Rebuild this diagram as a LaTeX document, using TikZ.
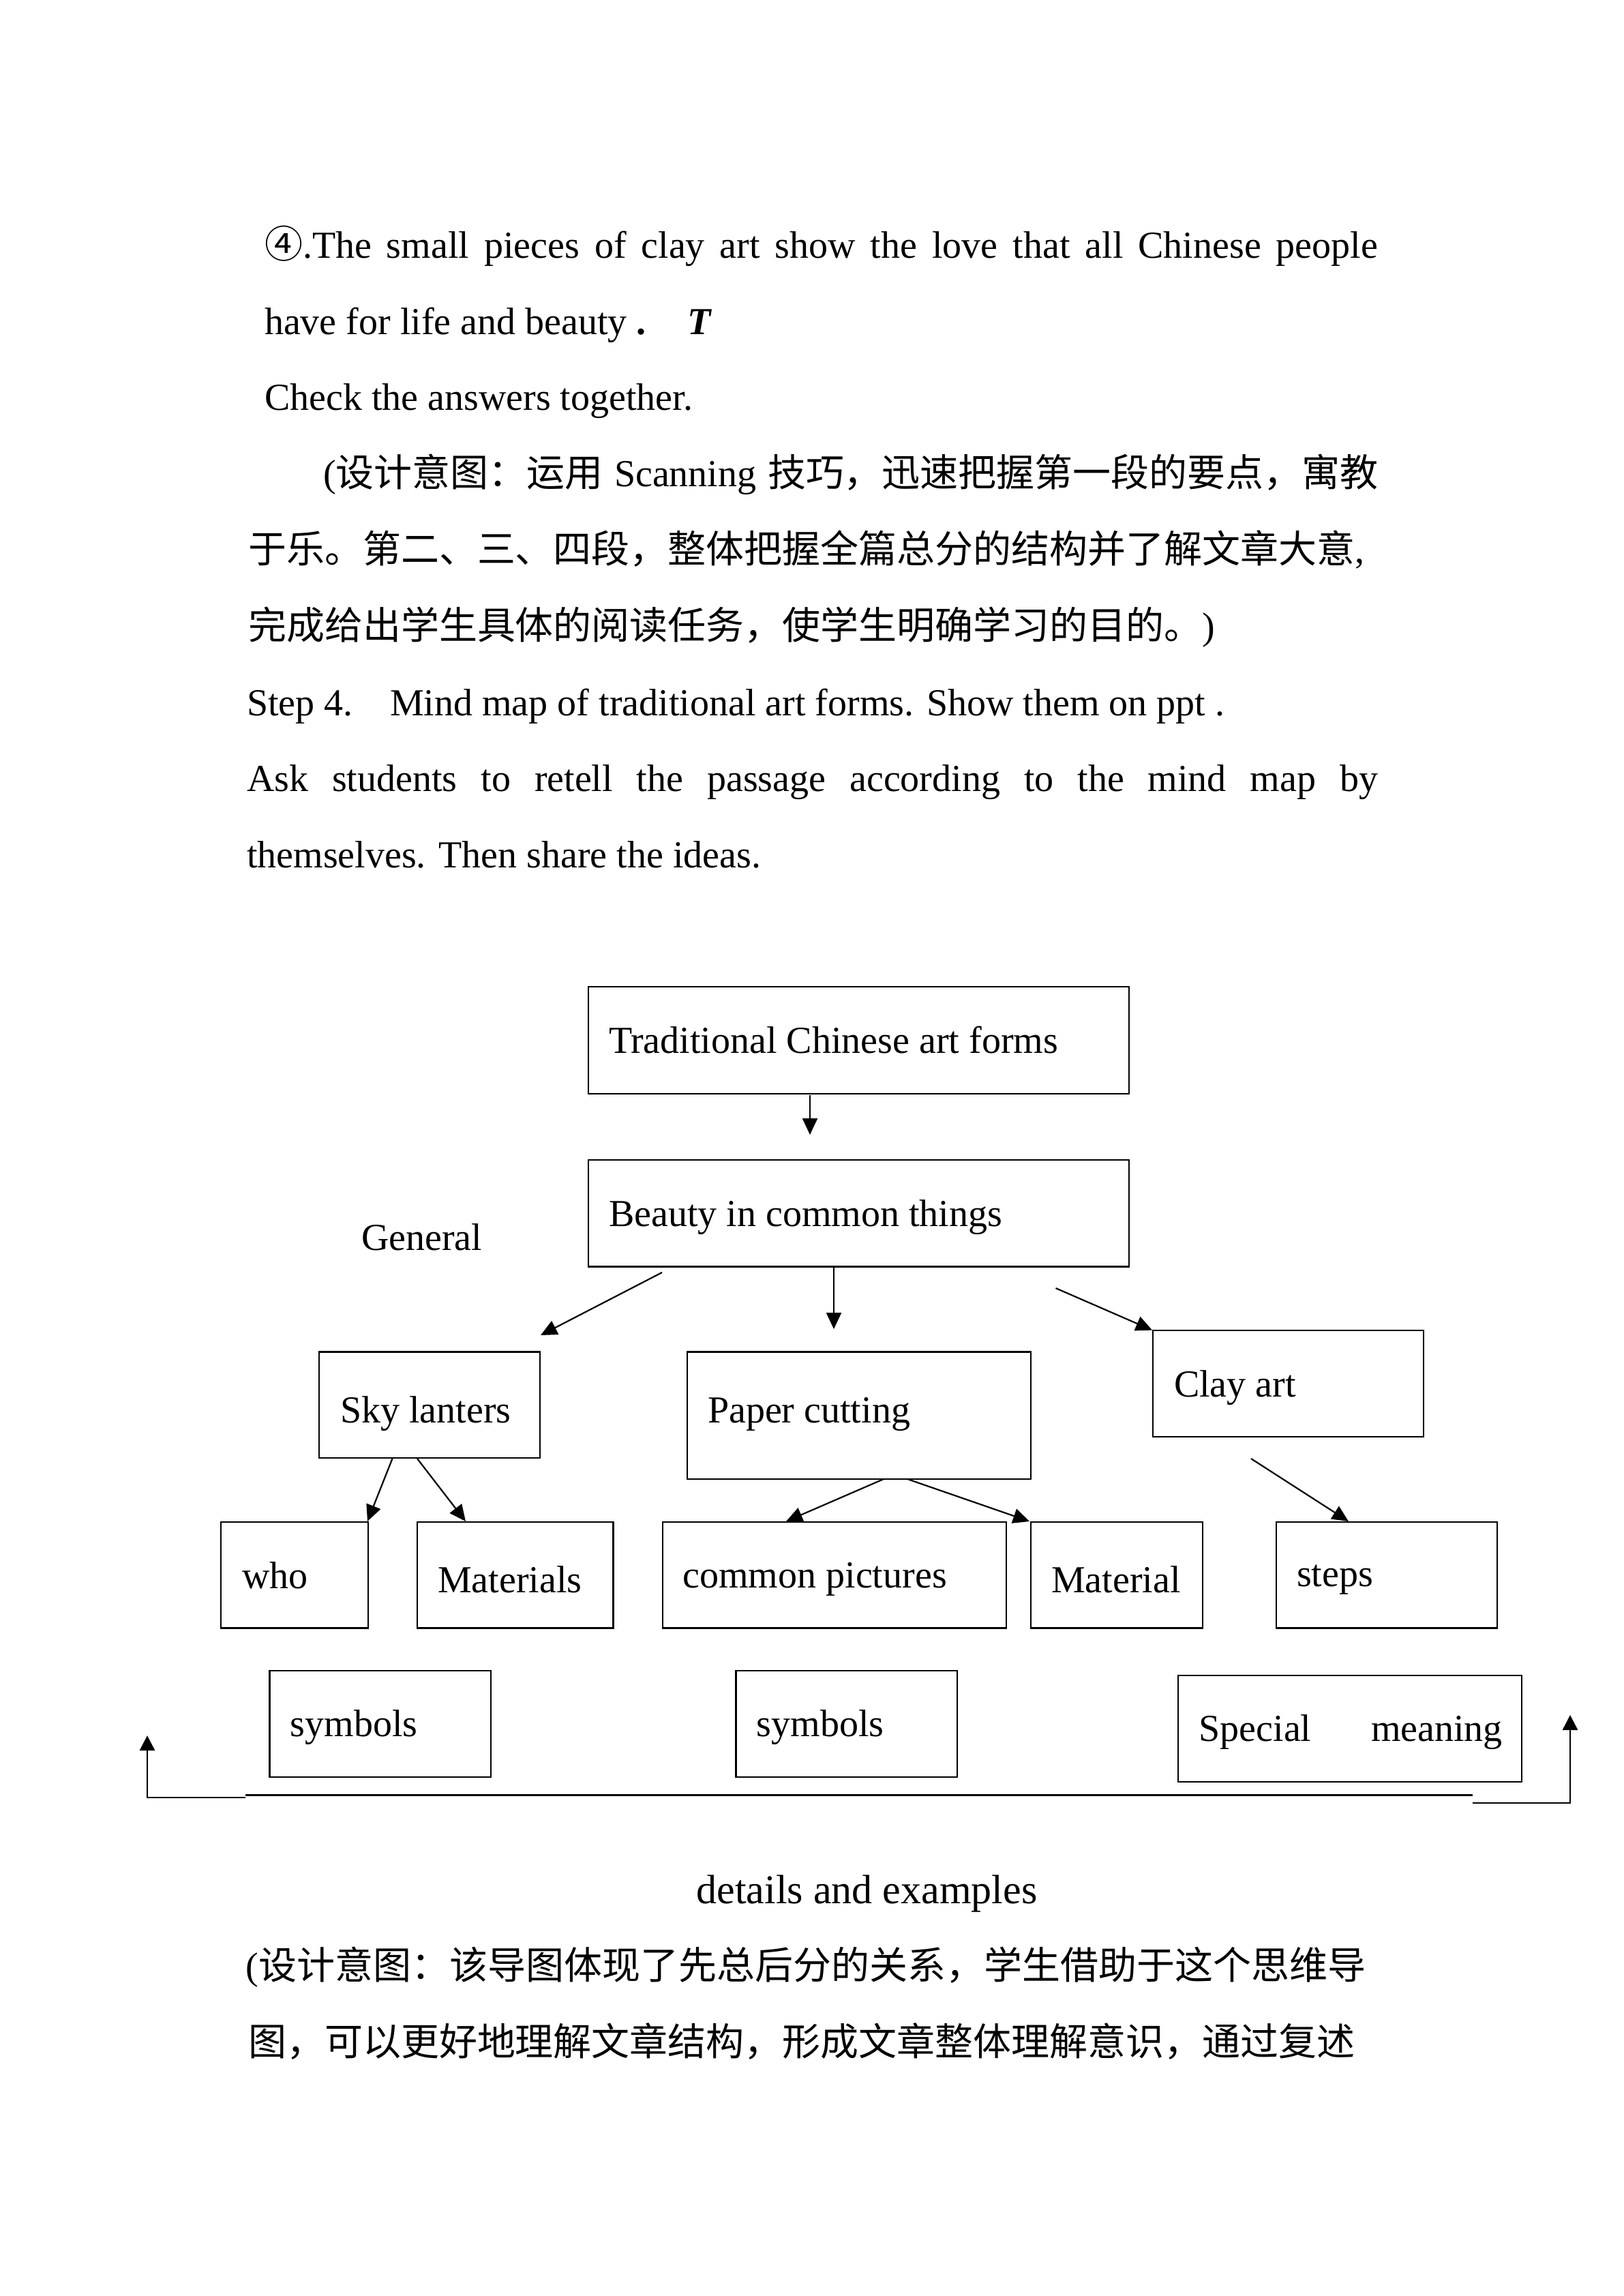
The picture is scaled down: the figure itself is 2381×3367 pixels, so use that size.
\documentclass[tikz,border=0pt]{standalone}
\usepackage{fontspec}
\setmainfont{Liberation Serif}
\newfontfamily\cjk{Noto Sans CJK SC}
\usetikzlibrary{arrows.meta,fit}
\begin{document}
\begin{tikzpicture}[x=0.25pt,y=-0.25pt,
  every node/.style={font=\fontsize{14pt}{16pt}\selectfont, inner sep=0pt, outer sep=0pt},
  txt/.style={anchor=base west},
  box/.style={draw, line width=0.55pt, inner sep=0pt, outer sep=0pt},
  arr/.style={line width=0.55pt, -{Triangle[length=6pt,width=5.5pt]}},
  rule/.style={line width=0.7pt}]
\fill[white] (0,0) rectangle (2381,3367);
\useasboundingbox (0,0) rectangle (2381,3367);

% ---- running text above the map ----
\node[txt] (l1) at (388,378) {\makebox[408.25pt][s]{{\cjk ④}.The small pieces of clay art show the love that all Chinese people}};
\node[txt] (l2) at (388,490) {have for life and beauty \textbf{.}};
\node[txt] (l2t) at (1008,490) {\textbf{\textit{T}}};
\node[txt] (l3) at (388,601.6) {Check the answers together.};
\node[txt] (l4) at (474,713.4) {\makebox[387pt][s]{({\cjk 设计意图：运用} Scanning {\cjk 技巧，迅速把握第一段的要点，寓教}}};
\node[txt] (l5) at (364,825.2) {{\cjk 于乐。第二、三、四段，整体把握全篇总分的结构并了解文章大意},};
\node[txt] (l6) at (364,937) {{\cjk 完成给出学生具体的阅读任务，使学生明确学习的目的。})};
\node[txt] (l7a) at (362,1049) {Step 4.};
\node[txt] (l7b) at (572,1049) {Mind map of traditional art forms. Show them on ppt .};
\node[txt] (l8) at (362,1160.6) {\makebox[414.75pt][s]{Ask students to retell the passage according to the mind map by}};
\node[txt] (l9) at (362,1272.4) {themselves. Then share the ideas.};

% ---- boxes ----
\node[box, fit={(863,1447) (1656,1604)}] (trad) {};
\node[box, fit={(863,1701) (1656,1857.5)}] (beauty) {};
\node[box, fit={(468,1982.5) (792,2138)}] (sky) {};
\node[box, fit={(1008,1982.5) (1512,2169)}] (paper) {};
\node[box, fit={(1691,1950.6) (2088,2107)}] (clay) {};
\node[box, fit={(323.6,2232) (540,2387.5)}] (who) {};
\node[box, fit={(612,2232) (899.5,2387.5)}] (mats) {};
\node[box, fit={(972,2232) (1476,2387.5)}] (common) {};
\node[box, fit={(1512,2232) (1764,2387.5)}] (mat) {};
\node[box, fit={(1872,2232) (2196,2387.5)}] (steps) {};
\node[box, fit={(395.5,2450) (719.6,2606)}] (sym1) {};
\node[box, fit={(1079.5,2450) (1404,2606)}] (sym2) {};
\node[box, fit={(1727.7,2457) (2232,2613)}] (special) {};

% ---- labels ----
\node[txt] (tradT) at (893,1544) {Traditional Chinese art forms};
\node[txt] (beautyT) at (893,1798) {Beauty in common things};
\node[txt] (general) at (530,1833) {General};
\node[txt] (skyT) at (499,2086) {Sky lanters};
\node[txt] (paperT) at (1038,2086) {Paper cutting};
\node[txt] (clayT) at (1722,2048) {Clay art};
\node[txt] (whoT) at (355,2329) {who};
\node[txt] (matsT) at (642,2335) {Materials};
\node[txt] (commonT) at (1001.5,2328) {common pictures};
\node[txt] (matT) at (1542,2335) {Material};
\node[txt] (stepsT) at (1902,2326) {steps};
\node[txt] (sym1T) at (425.7,2546) {symbols};
\node[txt] (sym2T) at (1109.7,2546) {symbols};
\node[txt] (specialT) at (1758.6,2553) {\makebox[111.3pt][s]{Special meaning}};
\node[txt, font=\fontsize{15pt}{17pt}\selectfont] (details) at (1021.5,2791) {details and examples};

% ---- text below ----
\node[txt] (b1) at (360.5,2902) {({\cjk 设计意图：该导图体现了先总后分的关系，学生借助于这个思维导}};
\node[txt] (b2) at (364,3014) {{\cjk 图，可以更好地理解文章结构，形成文章整体理解意识，通过复述}};

% ---- arrow end points ----
\coordinate (a1s) at (1188,1606);   \coordinate (a1e) at (1188,1664);
\coordinate (a2s) at (971,1866);    \coordinate (a2e) at (793,1958);
\coordinate (a3s) at (1223,1859);   \coordinate (a3e) at (1223,1949);
\coordinate (a4s) at (1548.5,1889); \coordinate (a4e) at (1690,1950.6);
\coordinate (a5s) at (575.5,2139);  \coordinate (a5e) at (539,2231);
\coordinate (a6s) at (612,2139);    \coordinate (a6e) at (683,2231);
\coordinate (a7s) at (1296,2169);   \coordinate (a7e) at (1153,2231);
\coordinate (a8s) at (1331,2169);   \coordinate (a8e) at (1510,2231);
\coordinate (a9s) at (1835,2139);   \coordinate (a9e) at (1978,2231);

\draw[arr] (a1s) -- (a1e);
\draw[arr] (a2s) -- (a2e);
\draw[arr] (a3s) -- (a3e);
\draw[arr] (a4s) -- (a4e);
\draw[arr] (a5s) -- (a5e);
\draw[arr] (a6s) -- (a6e);
\draw[arr] (a7s) -- (a7e);
\draw[arr] (a8s) -- (a8e);
\draw[arr] (a9s) -- (a9e);

% ---- bottom bracket ----
\coordinate (lA) at (360,2636);   \coordinate (lC) at (216,2636);  \coordinate (lT) at (216,2545);
\coordinate (mA) at (360,2632.6); \coordinate (mB) at (2160,2632.6);
\coordinate (rA) at (2160,2644);  \coordinate (rC) at (2303,2644); \coordinate (rT) at (2303,2515);
\draw[rule, -{Triangle[length=5.5pt,width=5.5pt]}] (lA) -- (lC) -- (lT);
\draw[rule] (mA) -- (mB);
\draw[rule, -{Triangle[length=5.5pt,width=5.5pt]}] (rA) -- (rC) -- (rT);
\end{tikzpicture}
\end{document}
